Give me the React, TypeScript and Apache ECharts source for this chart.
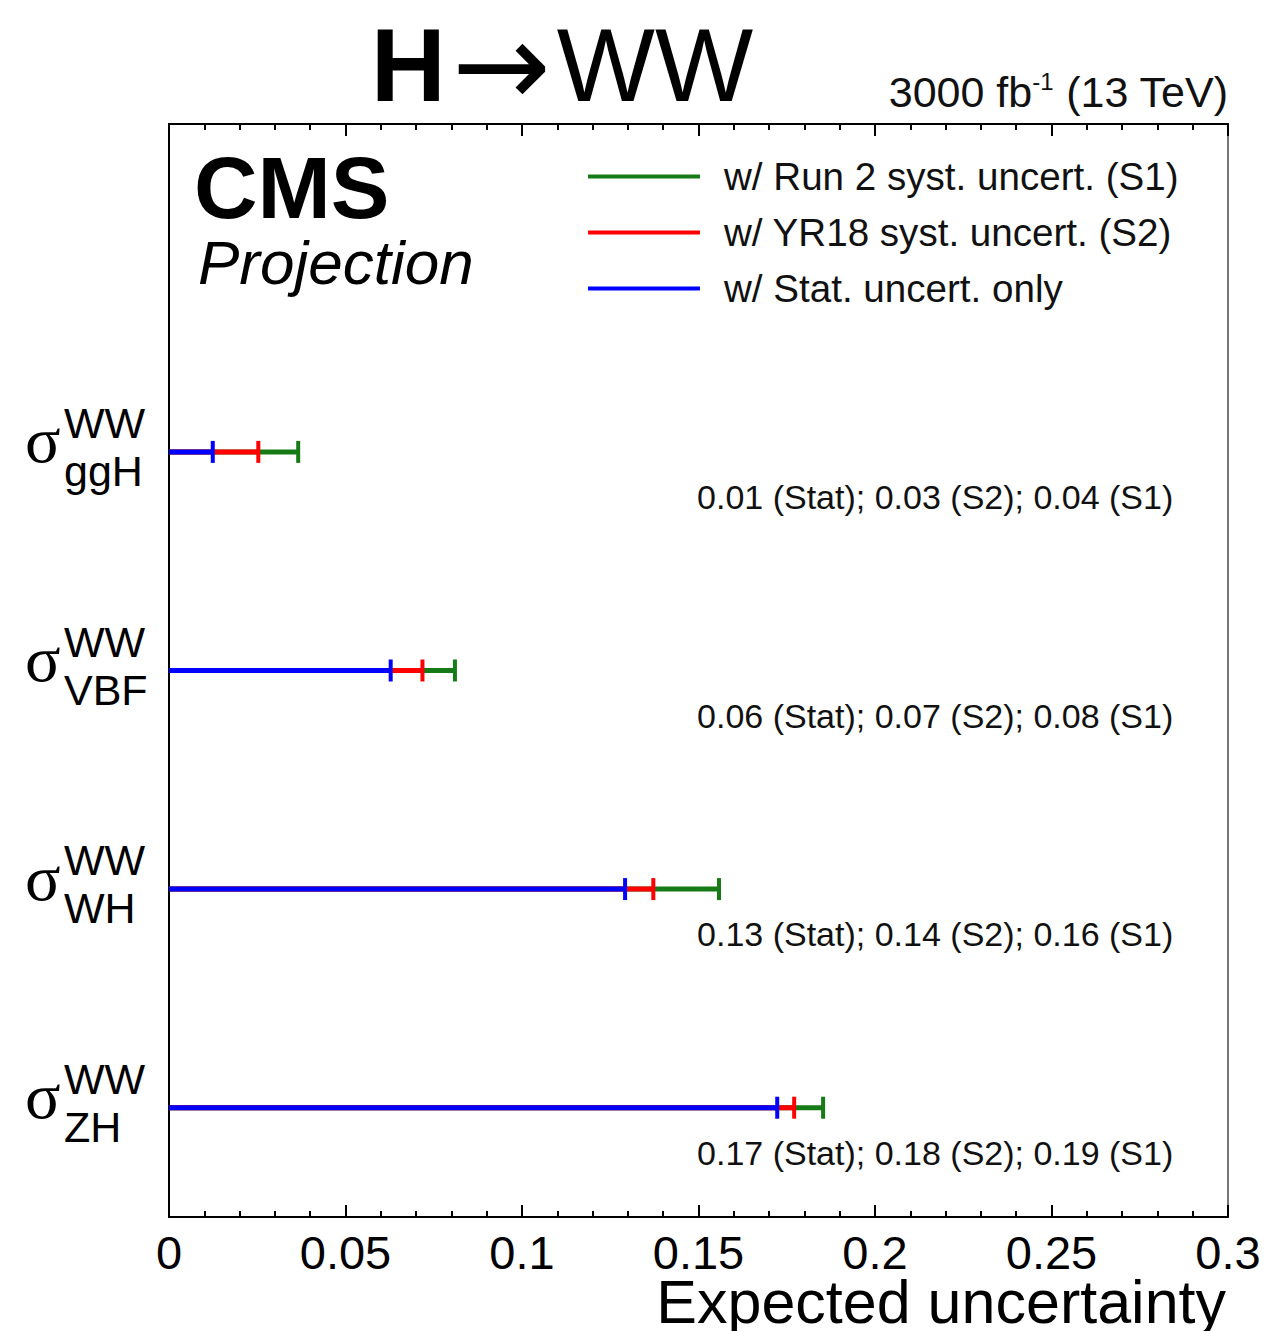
import React, { useEffect, useRef } from 'react';
import * as echarts from 'echarts';

const categories = ['', 'ggH', 'VBF', 'WH', 'ZH'];
const processes = ['ggH', 'VBF', 'WH', 'ZH'];
const statValues = [0.0124, 0.0628, 0.1292, 0.1723];
const s2Values = [0.0253, 0.0718, 0.1372, 0.1771];
const s1Values = [0.0366, 0.081, 0.1558, 0.1853];
const valueLabels = [
  '0.01 (Stat); 0.03 (S2); 0.04 (S1)',
  '0.06 (Stat); 0.07 (S2); 0.08 (S1)',
  '0.13 (Stat); 0.14 (S2); 0.16 (S1)',
  '0.17 (Stat); 0.18 (S2); 0.19 (S1)',
];
const seriesNames = ['w/ Run 2 syst. uncert. (S1)', 'w/ YR18 syst. uncert. (S2)', 'w/ Stat. uncert. only'];
const seriesColors = ['#167a16', '#ff0000', '#0000ff'];
const xMin = 0;
const xMax = 0.3;
const xInterval = 0.05;
const valueLabelX = 0.2845;
const xAxisTitle = 'Expected uncertainty';

const FONT = 'Liberation Sans, Arial, Helvetica, sans-serif';

function errorBarRender(color: string) {
  return (params: any, api: any) => {
    const v = api.value(0);
    const c = api.value(1);
    const s = api.coord([0, c]);
    const e = api.coord([v, c]);
    return {
      type: 'group',
      children: [
        { type: 'line', shape: { x1: s[0], y1: s[1], x2: e[0], y2: e[1] }, style: { stroke: color, lineWidth: 5 } },
        { type: 'line', shape: { x1: e[0], y1: e[1] - 11, x2: e[0], y2: e[1] + 11 }, style: { stroke: color, lineWidth: 4 } },
      ],
    };
  };
}

export default function App() {
  const ref = useRef<HTMLDivElement>(null);
  useEffect(() => {
    const chart = echarts.init(ref.current!, null, { renderer: 'svg' });
    const valueSets = [s1Values, s2Values, statValues];
    const barSeries = valueSets.map((vals, k) => ({
      type: 'custom',
      name: seriesNames[k],
      xAxisIndex: 0,
      yAxisIndex: 0,
      itemStyle: { color: seriesColors[k] },
      renderItem: errorBarRender(seriesColors[k]),
      encode: { x: 0, y: 1 },
      data: processes.map((p, i) => [vals[i], p]),
      z: 3 + k,
    }));
    const labelSeries = {
      type: 'custom',
      name: 'labels',
      xAxisIndex: 0,
      yAxisIndex: 0,
      clip: false,
      encode: { x: 0, y: 1 },
      data: processes.map((p) => [0, p]),
      renderItem: (params: any, api: any) => {
        const idx = params.dataIndex;
        const p = api.coord([0, api.value(1)]);
        const xr = api.coord([valueLabelX, api.value(1)])[0];
        return {
          type: 'group',
          children: [
            { type: 'text', x: p[0] - 144, y: p[1] - 12, style: { text: 'σ', fontFamily: 'Liberation Serif, DejaVu Serif, serif', fontSize: 66, fill: '#000', align: 'left', verticalAlign: 'middle' } },
            { type: 'text', x: p[0] - 105, y: p[1] - 29, style: { text: 'WW', fontFamily: FONT, fontSize: 43, fill: '#000', align: 'left', verticalAlign: 'middle' } },
            { type: 'text', x: p[0] - 105, y: p[1] + 19, style: { text: processes[idx], fontFamily: FONT, fontSize: 43, fill: '#000', align: 'left', verticalAlign: 'middle' } },
            { type: 'text', x: xr, y: p[1] + 45, style: { text: valueLabels[idx], fontFamily: FONT, fontSize: 34, fill: '#111', align: 'right', verticalAlign: 'middle' } },
          ],
        };
      },
    };
    const tickCommon = {
      axisLine: { show: true, lineStyle: { color: '#000', width: 2 } },
      axisTick: { show: true, inside: true, length: 12, lineStyle: { color: '#000', width: 2 } },
      minorTick: { show: true, splitNumber: 5, length: 6, lineStyle: { color: '#000', width: 2 } },
      splitLine: { show: false },
      minorSplitLine: { show: false },
    };
    chart.setOption({
      animation: false,
      backgroundColor: '#fff',
      grid: { left: 169, right: 38, top: 124, bottom: 114, outerBoundsMode: 'none', containLabel: false, show: true, borderColor: '#777', borderWidth: 2, backgroundColor: 'transparent' },
      xAxis: [
        {
          type: 'value', position: 'bottom', min: xMin, max: xMax, interval: xInterval,
          ...tickCommon,
          axisLabel: { fontFamily: FONT, fontSize: 47, lineHeight: 42, color: '#000', margin: 14 },
        },
        {
          type: 'value', position: 'top', min: xMin, max: xMax, interval: xInterval,
          ...tickCommon,
          axisLabel: { show: false },
        },
      ],
      yAxis: {
        type: 'category',
        data: categories,
        inverse: true,
        axisLine: { show: true, lineStyle: { color: '#000', width: 2 } },
        axisTick: { show: false },
        axisLabel: { show: false },
        splitLine: { show: false },
      },
      legend: {
        data: seriesNames.map((n, i) => ({ name: n, icon: 'rect', itemStyle: { color: seriesColors[i] } })),
        orient: 'vertical',
        left: 588,
        top: 157,
        padding: 0,
        itemWidth: 112,
        itemHeight: 4,
        itemGap: 17,
        selectedMode: false,
        textStyle: { fontFamily: FONT, fontSize: 38.6, color: '#111', padding: [0, 0, 0, 19] },
      },
      graphic: [
        {
          type: 'text', x: 562, y: 65,
          style: {
            text: '{h|H}{a|→}{w|WW}',
            align: 'center', verticalAlign: 'middle',
            rich: {
              h: { fontFamily: FONT, fontSize: 104, fontWeight: 'bold', fill: '#000' },
              a: { fontFamily: 'DejaVu Sans, sans-serif', fontSize: 118, fill: '#000', padding: [0, 6, 0, 6] },
              w: { fontFamily: FONT, fontSize: 104, fill: '#000' },
            },
          },
        },
        {
          type: 'text', x: 1228, y: 92,
          style: {
            text: '{m|3000 fb}{s|-1}{m| (13 TeV)}',
            align: 'right', verticalAlign: 'middle',
            rich: {
              m: { fontFamily: FONT, fontSize: 43, fill: '#111', lineHeight: 46 },
              s: { fontFamily: FONT, fontSize: 24, fill: '#111', verticalAlign: 'top', lineHeight: 24 },
            },
          },
        },
        { type: 'text', x: 194, y: 187, style: { text: 'CMS', fontFamily: FONT, fontSize: 88, lineHeight: 80, fontWeight: 'bold', fill: '#000', align: 'left', verticalAlign: 'middle' } },
        { type: 'text', x: 198, y: 262, style: { text: 'Projection', fontFamily: FONT, fontSize: 62, fontStyle: 'italic', fill: '#000', align: 'left', verticalAlign: 'middle' } },
        { type: 'text', x: 1226, y: 1302, style: { text: xAxisTitle, fontFamily: FONT, fontSize: 61, lineHeight: 52, fill: '#000', align: 'right', verticalAlign: 'middle' } },
      ],
      series: [...barSeries, labelSeries],
    });
    return () => chart.dispose();
  }, []);
  return <div ref={ref} style={{ width: 1266, height: 1331, position: 'absolute', left: 0, top: 0 }} />;
}
